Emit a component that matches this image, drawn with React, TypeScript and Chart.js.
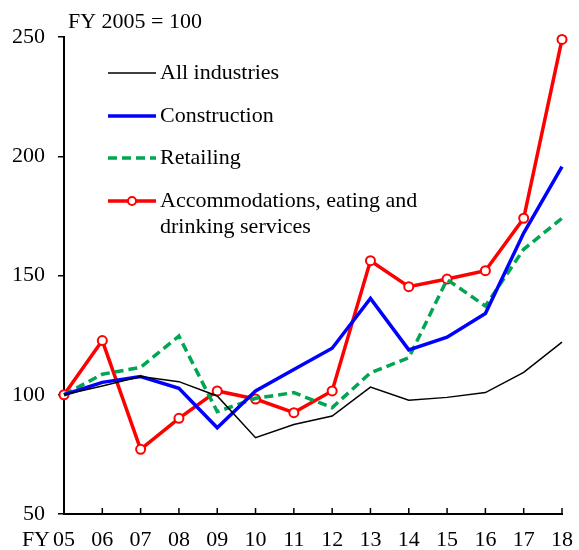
import React, { useEffect, useRef } from 'react';
import { Chart, registerables } from 'chart.js';
Chart.register(...registerables);

const years = ['05', '06', '07', '08', '09', '10', '11', '12', '13', '14', '15', '16', '17', '18'];
const allIndustries = [100, 103.7, 107.6, 105.5, 99.5, 82, 87.5, 91.1, 103.2, 97.7, 98.9, 100.9, 109.4, 122.1];
const construction = [100, 105.2, 107.6, 102.7, 86.2, 101.6, 110.6, 119.5, 140.4, 118.8, 124.1, 134.1, 167.8, 195.6];
const retailing = [100, 108.6, 111.5, 124.6, 92.9, 98.5, 100.9, 94.6, 109.2, 115.5, 148.3, 137.2, 161, 174];
const accommodations = [100, 122.7, 77.1, 90.1, 101.6, 98.2, 92.5, 101.6, 156.2, 145.3, 148.5, 152, 174, 249];
const yTicks = [50, 100, 150, 200, 250];
const titleText = 'FY 2005 = 100';
const xPrefix = 'FY';
const legendLabels = ['All industries', 'Construction', 'Retailing', 'Accommodations, eating and\ndrinking services'];

const FONT = '"Liberation Serif", "Times New Roman", serif';
const FS = 22;

const colors = ['#000000', '#0000FF', '#00A651', '#FF0000'];

const overlay = {
  id: 'overlay',
  afterDraw(chart: any) {
    const ctx = chart.ctx;
    const area = chart.chartArea;
    const xs = chart.scales.x;
    ctx.save();
    ctx.strokeStyle = '#000';
    ctx.lineWidth = 1.5;
    years.forEach((_, i) => {
      const x = xs.getPixelForValue(i);
      ctx.beginPath();
      ctx.moveTo(x, area.bottom);
      ctx.lineTo(x, area.bottom - 6);
      ctx.stroke();
    });
    ctx.font = `${FS}px ${FONT}`;
    ctx.fillStyle = '#000';
    ctx.textBaseline = 'middle';
    ctx.textAlign = 'left';
    ctx.fillText(titleText, 68, 22);
    ctx.textAlign = 'right';
    ctx.fillText(xPrefix, 50, 540);
    const rows = [73, 116, 158, 201];
    const x0 = 108, x1 = 156, tx = 160;
    legendLabels.forEach((lab, i) => {
      const y = rows[i];
      ctx.strokeStyle = colors[i];
      ctx.lineWidth = i === 0 ? 1.5 : 3.5;
      ctx.setLineDash(i === 2 ? [9, 5] : []);
      ctx.beginPath();
      ctx.moveTo(x0, y);
      ctx.lineTo(x1, y);
      ctx.stroke();
      ctx.setLineDash([]);
      if (i === 3) {
        ctx.beginPath();
        ctx.arc((x0 + x1) / 2, y, 4, 0, Math.PI * 2);
        ctx.fillStyle = '#fff';
        ctx.fill();
        ctx.lineWidth = 2;
        ctx.strokeStyle = colors[3];
        ctx.stroke();
      }
      ctx.fillStyle = '#000';
      ctx.textAlign = 'left';
      lab.split('\n').forEach((ln, j) => ctx.fillText(ln, tx, y + j * 26));
    });
    ctx.restore();
  },
};

export default function App() {
  const ref = useRef<HTMLCanvasElement>(null);
  useEffect(() => {
    const chart = new Chart(ref.current!, {
      type: 'line',
      data: {
        labels: years,
        datasets: [
          { label: legendLabels[0], data: allIndustries, borderColor: colors[0], borderWidth: 1.5, pointRadius: 0, tension: 0, clip: false as any },
          { label: legendLabels[1], data: construction, borderColor: colors[1], borderWidth: 3.5, pointRadius: 0, tension: 0, clip: false as any },
          { label: legendLabels[2], data: retailing, borderColor: colors[2], borderWidth: 3.5, borderDash: [9, 5], pointRadius: 0, tension: 0, clip: false as any },
          {
            label: legendLabels[3], data: accommodations, borderColor: colors[3], borderWidth: 3.5,
            pointRadius: 4.5, pointBackgroundColor: '#fff', pointBorderColor: colors[3], pointBorderWidth: 2,
            tension: 0, clip: false as any,
          },
        ],
      },
      options: {
        animation: false,
        responsive: false,
        events: [],
        layout: { padding: { left: 0, right: 17, top: 37, bottom: 0 } },
        plugins: { legend: { display: false }, tooltip: { enabled: false }, title: { display: false } },
        scales: {
          x: {
            type: 'category',
            offset: false,
            grid: { display: true, drawOnChartArea: false, drawTicks: false, color: 'rgba(0,0,0,0)' },
            border: { display: true, color: '#000', width: 2 },
            ticks: { color: '#000', font: { family: FONT, size: FS }, padding: 13, maxRotation: 0, autoSkip: false },
            afterFit: (s: any) => { s.height = 36; s.paddingRight = 0; s.paddingLeft = 0; },
          },
          y: {
            min: 50,
            max: 250,
            afterBuildTicks: (s: any) => { s.ticks = yTicks.map((v) => ({ value: v })); },
            grid: { display: true, drawOnChartArea: false, drawTicks: true, tickLength: 6, color: '#000', lineWidth: 1.5 },
            border: { display: true, color: '#000', width: 2 },
            ticks: { color: '#000', font: { family: FONT, size: FS }, padding: 13 },
            afterFit: (s: any) => { s.width = 64; s.paddingTop = 0; s.paddingBottom = 0; },
          },
        },
      },
      plugins: [overlay],
    });
    return () => chart.destroy();
  }, []);
  return (
    <div style={{ position: 'fixed', left: 0, top: 0, width: 579, height: 550, background: '#fff' }}>
      <canvas ref={ref} width={579} height={550} style={{ width: 579, height: 550 }} />
    </div>
  );
}
